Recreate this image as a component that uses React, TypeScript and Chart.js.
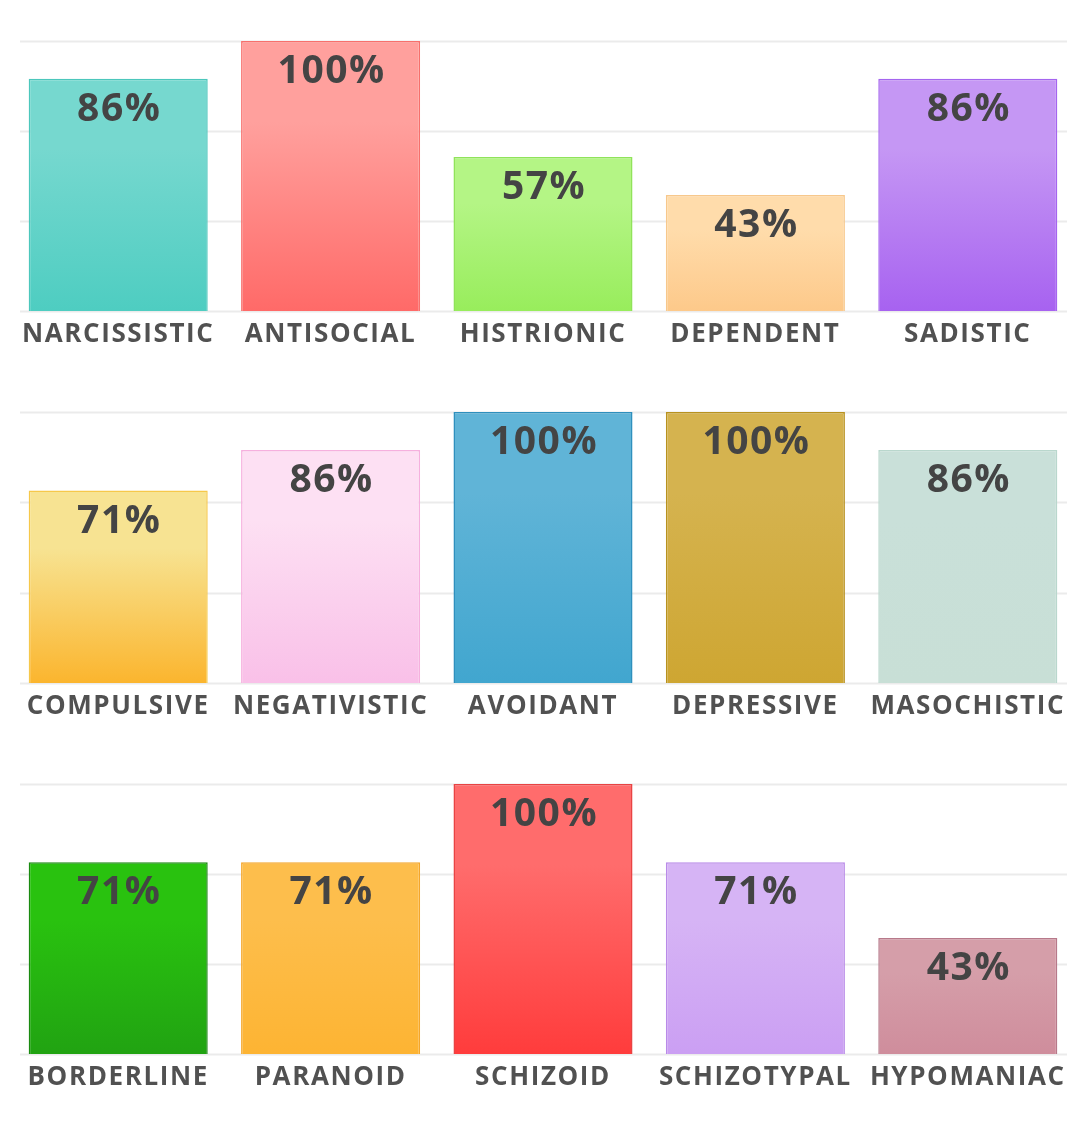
import { useEffect, useRef } from "react";
import { Chart, registerables } from "chart.js";

Chart.register(...registerables);

// top row
const labelsA = ["NARCISSISTIC", "ANTISOCIAL", "HISTRIONIC", "DEPENDENT", "SADISTIC"];
const valuesA = [86, 100, 57, 43, 86];
const topColorsA = ["#76d8cf", "#ffa09d", "#b4f585", "#ffdcab", "#c597f4"];
const bottomColorsA = ["#4ecdc1", "#ff6a68", "#98ed5c", "#fdc98a", "#a762f0"];
const borderColorsA = ["#4cc7bc", "#f7706c", "#90e35a", "#f7c88c", "#a565ef"];

// middle row
const labelsB = ["COMPULSIVE", "NEGATIVISTIC", "AVOIDANT", "DEPRESSIVE", "MASOCHISTIC"];
const valuesB = [71, 86, 100, 100, 86];
const topColorsB = ["#f7e392", "#fde0f3", "#60b4d7", "#d5b34f", "#c9e0d9"];
const bottomColorsB = ["#fbb52e", "#f9c0e8", "#41a6cf", "#cea632", "#c8dfd6"];
const borderColorsB = ["#f6c84a", "#f6b0de", "#2e8fbd", "#b8921f", "#b9d7cd"];

// bottom row
const labelsC = ["BORDERLINE", "PARANOID", "SCHIZOID", "SCHIZOTYPAL", "HYPOMANIAC"];
const valuesC = [71, 71, 100, 71, 43];
const topColorsC = ["#29c20f", "#fdbe4c", "#ff6c6c", "#d6b4f5", "#d59ea9"];
const bottomColorsC = ["#21a312", "#fdb433", "#ff3c3c", "#cb9ff3", "#cf8d9c"];
const borderColorsC = ["#1a8a10", "#f5a62a", "#e84343", "#b98ae8", "#b7798a"];

const yTicks = [0, 100 / 3, 200 / 3, 100];

Chart.defaults.font.family = "'Open Sans', sans-serif";

// light grid lines, slightly inset from the plot edges
const gridPlugin = {
  id: "insetGrid",
  beforeDraw(chart: any) {
    // the original text is a little spread out
    chart.ctx.letterSpacing = "1.6px";
  },
  beforeDatasetsDraw(chart: any) {
    const { ctx, chartArea, scales } = chart;
    ctx.save();
    ctx.strokeStyle = "#ebebeb";
    ctx.lineWidth = 2;
    yTicks.forEach((t) => {
      const y = Math.round(scales.y.getPixelForValue(t)) + 0.5;
      ctx.beginPath();
      ctx.moveTo(chartArea.left + 8, y);
      ctx.lineTo(chartArea.right - 7, y);
      ctx.stroke();
    });
    ctx.restore();
  },
  afterDraw(chart: any) {
    chart.ctx.letterSpacing = "0px";
  },
};

// percentage text inside the top of each bar
const valueLabelPlugin = {
  id: "valueLabels",
  afterDatasetsDraw(chart: any) {
    const { ctx } = chart;
    const meta = chart.getDatasetMeta(0);
    const data = chart.data.datasets[0].data as number[];
    ctx.save();
    ctx.fillStyle = "#444444";
    ctx.font = "bold 39px 'Open Sans', sans-serif";
    ctx.letterSpacing = "1.5px";
    ctx.textAlign = "center";
    ctx.textBaseline = "alphabetic";
    meta.data.forEach((bar: any, i: number) => {
      ctx.fillText(data[i] + "%", bar.x + 1, bar.y + 42);
    });
    ctx.restore();
  },
};

type BarChartProps = {
  labels: string[];
  values: number[];
  topColors: string[];
  bottomColors: string[];
  borderColors: string[];
  height: number;
};

const BarChart = ({ labels, values, topColors, bottomColors, borderColors, height }: BarChartProps) => {
  const chartRef = useRef<HTMLCanvasElement | null>(null);
  const chartInstanceRef = useRef<Chart | null>(null);

  useEffect(() => {
    if (chartInstanceRef.current) {
      chartInstanceRef.current.destroy();
    }
    const ctx = chartRef.current?.getContext("2d");
    if (!ctx) return;

    chartInstanceRef.current = new Chart(ctx, {
      type: "bar",
      data: {
        labels,
        datasets: [
          {
            data: values,
            backgroundColor: (context: any) => {
              const chart = context.chart;
              const yScale = chart.scales?.y;
              const i = context.dataIndex;
              if (!chart.chartArea || !yScale || i === undefined) return bottomColors[i ?? 0];
              const top = yScale.getPixelForValue(values[i]);
              const base = yScale.getPixelForValue(0);
              const g = chart.ctx.createLinearGradient(0, top, 0, base);
              g.addColorStop(0, topColors[i]);
              g.addColorStop(0.3, topColors[i]);
              g.addColorStop(1, bottomColors[i]);
              return g;
            },
            borderColor: borderColors,
            borderWidth: 1.5,
            borderSkipped: "bottom",
            categoryPercentage: 1,
            barPercentage: 0.843,
          },
        ],
      },
      options: {
        animation: false,
        responsive: true,
        maintainAspectRatio: false,
        layout: { padding: { top: 41, left: 12, right: 6, bottom: 0 } },
        plugins: {
          legend: { display: false },
          tooltip: { enabled: false },
        },
        scales: {
          x: {
            grid: { display: false, drawTicks: false },
            border: { display: false },
            ticks: {
              color: "#515151",
              padding: 8,
              maxRotation: 0,
              autoSkip: false,
              font: { size: 26, weight: "bold" },
            },
            afterFit: (scale: any) => {
              scale.height = 60;
            },
          },
          y: {
            display: false,
            min: 0,
            max: 100,
          },
        },
      },
      plugins: [gridPlugin, valueLabelPlugin],
    } as any);

    return () => {
      if (chartInstanceRef.current) {
        chartInstanceRef.current.destroy();
        chartInstanceRef.current = null;
      }
    };
  }, []);

  return (
    <div style={{ position: "relative", width: "100%", height }}>
      <canvas ref={chartRef} />
    </div>
  );
};

const App = () => {
  return (
    <div style={{ width: 1080, margin: "-8px 0 0 -8px", background: "#ffffff" }}>
      <BarChart labels={labelsA} values={valuesA} topColors={topColorsA} bottomColors={bottomColorsA} borderColors={borderColorsA} height={371} />
      <BarChart labels={labelsB} values={valuesB} topColors={topColorsB} bottomColors={bottomColorsB} borderColors={borderColorsB} height={372} />
      <BarChart labels={labelsC} values={valuesC} topColors={topColorsC} bottomColors={bottomColorsC} borderColors={borderColorsC} height={371} />
    </div>
  );
};

export default App;
